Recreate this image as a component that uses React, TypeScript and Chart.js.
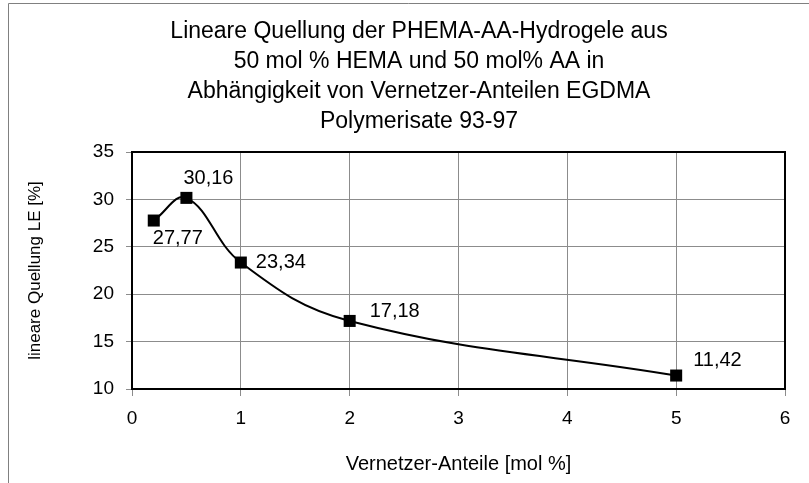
import React, { useEffect, useRef } from "react";
import { Chart, registerables } from "chart.js";

Chart.register(...registerables);

const TITLE_LINES = [
  "Lineare Quellung der PHEMA-AA-Hydrogele aus",
  "50 mol % HEMA und 50 mol% AA in",
  "Abhängigkeit von Vernetzer-Anteilen EGDMA",
  "Polymerisate 93-97",
];
const X_VALUES = [0.2, 0.5, 1, 2, 5];
const Y_VALUES = [27.77, 30.16, 23.34, 17.18, 11.42];
const POINT_LABELS = ["27,77", "30,16", "23,34", "17,18", "11,42"];
const X_TITLE = "Vernetzer-Anteile [mol %]";
const Y_TITLE = "lineare Quellung LE [%]";
const X_RANGE = [0, 6];
const Y_RANGE = [10, 35];

const FONT = "'Liberation Sans', Arial, sans-serif";

const decorPlugin = {
  id: "decor",
  beforeDraw(chart: any) {
    const { ctx, width, height } = chart;
    ctx.save();
    ctx.fillStyle = "#ffffff";
    ctx.fillRect(0, 0, width, height);
    ctx.strokeStyle = "#808080";
    ctx.lineWidth = 1;
    ctx.beginPath();
    ctx.moveTo(8.5, height);
    ctx.lineTo(8.5, 3.5);
    ctx.lineTo(width, 3.5);
    ctx.stroke();
    ctx.restore();
  },
  beforeDatasetsDraw(chart: any) {
    const { ctx, chartArea } = chart;
    ctx.save();
    ctx.strokeStyle = "#000000";
    ctx.lineWidth = 2;
    ctx.strokeRect(
      chartArea.left,
      chartArea.top,
      chartArea.right - chartArea.left,
      chartArea.bottom - chartArea.top
    );
    ctx.restore();
  },
  afterDatasetsDraw(chart: any) {
    const { ctx } = chart;
    const offsets = [
      [-1, 18],
      [-3, -19],
      [15, 0],
      [20, -9],
      [17, -15],
    ];
    const meta = chart.getDatasetMeta(0);
    ctx.save();
    ctx.fillStyle = "#000000";
    ctx.font = `20px ${FONT}`;
    ctx.textAlign = "left";
    ctx.textBaseline = "middle";
    meta.data.forEach((pt: any, i: number) => {
      const [dx, dy] = offsets[i];
      ctx.fillText(POINT_LABELS[i], pt.x + dx, pt.y + dy);
    });
    ctx.restore();
  },
  afterDraw(chart: any) {
    const { ctx } = chart;
    ctx.save();
    ctx.fillStyle = "#000000";
    ctx.font = `23px ${FONT}`;
    ctx.textAlign = "center";
    ctx.textBaseline = "middle";
    TITLE_LINES.forEach((line, i) => {
      ctx.fillText(line, 419, 32 + i * 30);
    });
    ctx.restore();
  },
};

export default function App() {
  const ref = useRef<HTMLCanvasElement | null>(null);

  useEffect(() => {
    if (!ref.current) return;
    const chart = new Chart(ref.current, {
      type: "line",
      data: {
        datasets: [
          {
            data: X_VALUES.map((x, i) => ({ x, y: Y_VALUES[i] })),
            borderColor: "#000000",
            backgroundColor: "#000000",
            borderWidth: 2,
            tension: 0.4,
            pointStyle: "rect",
            pointRadius: 8.5,
            pointHoverRadius: 8.5,
            pointBorderWidth: 0,
            pointBackgroundColor: "#000000",
            fill: false,
          },
        ],
      },
      options: {
        animation: false,
        responsive: false,
        devicePixelRatio: 1,
        layout: { padding: { top: 152, left: 12, right: 24, bottom: 0 } },
        plugins: {
          legend: { display: false },
          title: { display: false },
          tooltip: { enabled: false },
        },
        scales: {
          x: {
            type: "linear",
            min: X_RANGE[0],
            max: X_RANGE[1],
            ticks: {
              stepSize: 1,
              color: "#000000",
              font: { family: FONT, size: 19 },
              padding: 11,
              maxRotation: 0,
            },
            grid: { color: "#8c8c8c", lineWidth: 1, tickLength: 7, drawTicks: true },
            border: { display: false },
            title: {
              display: true,
              text: X_TITLE,
              color: "#000000",
              font: { family: FONT, size: 20 },
              padding: { top: 0, bottom: 7 },
            },
            afterFit(scale: any) {
              scale.height = 94;
            },
          },
          y: {
            type: "linear",
            min: Y_RANGE[0],
            max: Y_RANGE[1],
            ticks: {
              stepSize: 5,
              color: "#000000",
              font: { family: FONT, size: 19 },
              padding: 12,
            },
            grid: { color: "#8c8c8c", lineWidth: 1, tickLength: 6, drawTicks: true },
            border: { display: false },
            title: {
              display: true,
              text: Y_TITLE,
              color: "#000000",
              font: { family: FONT, size: 17 },
              padding: { top: 13, bottom: 0 },
            },
            afterFit(scale: any) {
              scale.width = 120;
            },
          },
        },
      },
      plugins: [decorPlugin],
    } as any);
    return () => chart.destroy();
  }, []);

  return (
    <div style={{ position: "fixed", left: 0, top: 0, width: 809, height: 483 }}>
      <canvas ref={ref} width={809} height={483} style={{ width: 809, height: 483 }} />
    </div>
  );
}
